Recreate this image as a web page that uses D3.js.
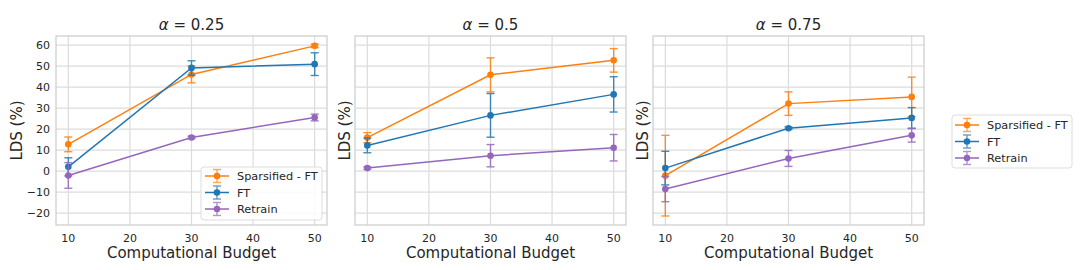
<!DOCTYPE html>
<html>
<head>
<meta charset="utf-8">
<script src="https://cdn.jsdelivr.net/npm/d3@7"></script>
<style>
  body { margin: 0; background: #fff; }
  svg { font-family: "DejaVu Sans", sans-serif; }
</style>
</head>
<body>
<script>
  var w = 1080
  var h = 270

  // data
  var budgets = [10, 30, 50]
  var alphas = ["0.25", "0.5", "0.75"]
  var seriesNames = ["Sparsified - FT", "FT", "Retrain"]
  var seriesColors = ["#ff7f0e", "#1f77b4", "#9467bd"]

  // one row per panel, values at budgets 10, 30, 50
  var sparsMean = [[12.7, 46.0, 59.6], [15.9, 45.8, 52.7], [-2.2, 32.1, 35.3]]
  var sparsErr = [[3.5, 4.0, 0.8], [2.4, 8.1, 5.6], [19.2, 5.6, 9.4]]
  var ftMean = [[2.0, 49.1, 50.9], [12.2, 26.5, 36.5], [1.4, 20.4, 25.3]]
  var ftErr = [[4.3, 3.4, 5.4], [3.5, 10.4, 8.4], [8.0, 0.6, 4.9]]
  var retrainMean = [[-2.1, 16.0, 25.5], [1.4, 7.3, 11.1], [-8.6, 6.0, 17.0]]
  var retrainErr = [[6.1, 0.6, 1.6], [0.6, 5.3, 6.3], [6.0, 3.8, 3.2]]

  var xTicks = [10, 20, 30, 40, 50]
  var yTicks = [-20, -10, 0, 10, 20, 30, 40, 50, 60]

  var means = [sparsMean, ftMean, retrainMean]
  var errs = [sparsErr, ftErr, retrainErr]

  var panelLeft = [56, 355, 653]
  var panelW = 271
  var plotTop = 36, plotBottom = 225

  var textColor = "#262626"
  var gridColor = "#dcdcdc"

  var svg = d3.select("body").append("svg")
      .attr("width", w)
      .attr("height", h)

  var y = d3.scaleLinear().domain([-25.7, 64.3]).range([plotBottom, plotTop])

  alphas.forEach(function (a, p) {
      var x = d3.scaleLinear().domain([8, 52]).range([panelLeft[p], panelLeft[p] + panelW])
      var g = svg.append("g")

      //GRID
      g.selectAll(".gx").data(xTicks).enter().append("line")
          .attr("x1", function (d) { return x(d) }).attr("x2", function (d) { return x(d) })
          .attr("y1", plotTop).attr("y2", plotBottom)
          .attr("stroke", gridColor).attr("stroke-width", 1.2)
      g.selectAll(".gy").data(yTicks).enter().append("line")
          .attr("x1", x.range()[0]).attr("x2", x.range()[1])
          .attr("y1", function (d) { return y(d) }).attr("y2", function (d) { return y(d) })
          .attr("stroke", gridColor).attr("stroke-width", 1.2)

      //FRAME
      g.append("rect")
          .attr("x", x.range()[0]).attr("y", plotTop)
          .attr("width", panelW).attr("height", plotBottom - plotTop)
          .attr("fill", "none").attr("stroke", "#cccccc").attr("stroke-width", 1.2)

      //TICK LABELS
      g.selectAll(".tx").data(xTicks).enter().append("text")
          .attr("x", function (d) { return x(d) })
          .attr("y", 242)
          .attr("text-anchor", "middle")
          .attr("font-size", "11px")
          .attr("fill", textColor)
          .text(function (d) { return d })

      if (p == 0) {
          g.selectAll(".ty").data(yTicks).enter().append("text")
              .attr("x", 50)
              .attr("y", function (d) { return y(d) + 4 })
              .attr("text-anchor", "end")
              .attr("font-size", "11px")
              .attr("fill", textColor)
              .text(function (d) { return d < 0 ? "\u2212" + Math.abs(d) : d })
      }

      //AXIS LABELS
      var labelX = p == 0 ? 22 : panelLeft[p] - 5
      g.append("text")
          .attr("transform", "translate(" + labelX + "," + ((plotTop + plotBottom) / 2) + ") rotate(-90)")
          .attr("text-anchor", "middle")
          .attr("font-size", "15px")
          .attr("fill", textColor)
          .text("LDS (%)")

      g.append("text")
          .attr("x", panelLeft[p] + panelW / 2)
          .attr("y", 258)
          .attr("text-anchor", "middle")
          .attr("font-size", "15px")
          .attr("fill", textColor)
          .text("Computational Budget")

      var title = g.append("text")
          .attr("x", panelLeft[p] + panelW / 2)
          .attr("y", 30)
          .attr("text-anchor", "middle")
          .attr("font-size", "15px")
          .attr("fill", textColor)
      title.append("tspan").attr("font-style", "italic").text("\u03b1")
      title.append("tspan").text(" = " + a)

      //SERIES
      seriesNames.forEach(function (name, s) {
          var pts = budgets.map(function (b, i) {
              return { x: b, m: means[s][p][i], e: errs[s][p][i] }
          })
          var col = seriesColors[s]
          var sg = g.append("g")

          var eb = sg.selectAll(".eb").data(pts).enter().append("g")
              .attr("stroke", col).attr("stroke-width", 1.4).attr("opacity", 0.85)
          eb.append("line")
              .attr("x1", function (d) { return x(d.x) }).attr("x2", function (d) { return x(d.x) })
              .attr("y1", function (d) { return y(d.m - d.e) }).attr("y2", function (d) { return y(d.m + d.e) })
          eb.append("line")
              .attr("x1", function (d) { return x(d.x) - 4 }).attr("x2", function (d) { return x(d.x) + 4 })
              .attr("y1", function (d) { return y(d.m - d.e) }).attr("y2", function (d) { return y(d.m - d.e) })
          eb.append("line")
              .attr("x1", function (d) { return x(d.x) - 4 }).attr("x2", function (d) { return x(d.x) + 4 })
              .attr("y1", function (d) { return y(d.m + d.e) }).attr("y2", function (d) { return y(d.m + d.e) })

          sg.append("path")
              .datum(pts)
              .attr("fill", "none")
              .attr("stroke", col)
              .attr("stroke-width", 1.5)
              .attr("d", d3.line().x(function (d) { return x(d.x) }).y(function (d) { return y(d.m) }))

          sg.selectAll("circle").data(pts).enter().append("circle")
              .attr("cx", function (d) { return x(d.x) })
              .attr("cy", function (d) { return y(d.m) })
              .attr("r", 3.3)
              .attr("fill", col)
      })
  })

  //LEGENDS
  function legend(bx, by, bw, bh, rowY, lineX0) {
      var lg = svg.append("g")
      lg.append("rect")
          .attr("x", bx).attr("y", by).attr("width", bw).attr("height", bh)
          .attr("rx", 3)
          .attr("fill", "#fff").attr("fill-opacity", 0.85)
          .attr("stroke", "#dddddd").attr("stroke-width", 1)
      seriesNames.forEach(function (name, s) {
          var cy = rowY[s]
          var col = seriesColors[s]
          var cx = lineX0 + 12
          lg.append("line").attr("x1", lineX0).attr("x2", lineX0 + 24)
              .attr("y1", cy).attr("y2", cy).attr("stroke", col).attr("stroke-width", 1.5)
          var e = lg.append("g").attr("stroke", col).attr("stroke-width", 1.4).attr("opacity", 0.7)
          e.append("line").attr("x1", cx).attr("x2", cx).attr("y1", cy - 6.5).attr("y2", cy + 6.5)
          e.append("line").attr("x1", cx - 4).attr("x2", cx + 4).attr("y1", cy - 6.5).attr("y2", cy - 6.5)
          e.append("line").attr("x1", cx - 4).attr("x2", cx + 4).attr("y1", cy + 6.5).attr("y2", cy + 6.5)
          lg.append("circle").attr("cx", cx).attr("cy", cy).attr("r", 3.3).attr("fill", col)
          lg.append("text")
              .attr("x", lineX0 + 32).attr("y", cy + 4.2)
              .attr("font-size", "11.3px")
              .attr("fill", textColor)
              .text(name)
      })
  }

  legend(201, 167, 121, 53, [176, 192.5, 209], 205)
  legend(952, 115, 120, 53, [125, 141.5, 158], 955)
</script>
</body>
</html>
